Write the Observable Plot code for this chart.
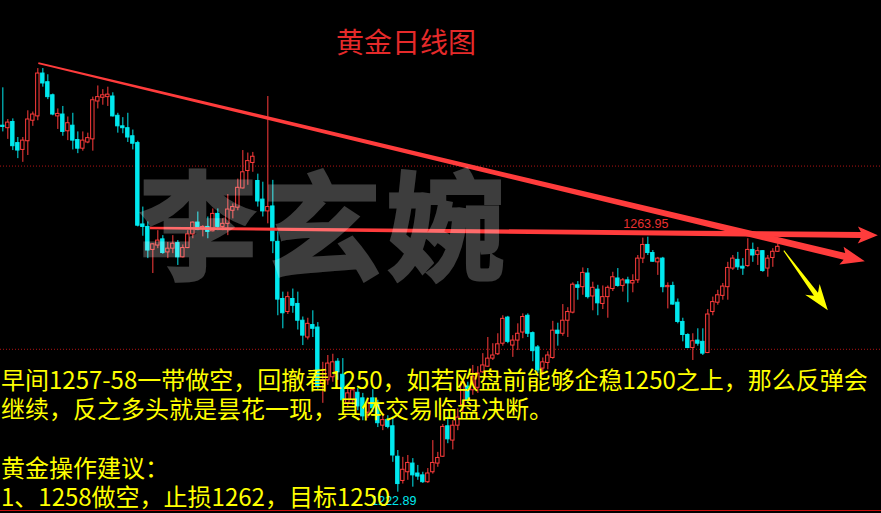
<!DOCTYPE html>
<html>
<head>
<meta charset="utf-8">
<script src="https://cdn.jsdelivr.net/npm/d3@7"></script>
<script src="https://cdn.jsdelivr.net/npm/@observablehq/plot@0.6"></script>
<style>
  html, body { margin: 0; padding: 0; background: #000; }
  #wrap { position: relative; width: 881px; height: 513px; overflow: hidden; background: #000; }
  #chart { position: absolute; left: 0; top: 0; }
  .rule-top { position: absolute; left: 0; top: 7px; width: 881px; height: 2px; background: #c80f0f; }
  .rule-bottom { position: absolute; left: 0; top: 510px; width: 881px; height: 1px; background: #c80f0f; }
  .title { position: absolute; left: 336px; top: 26px; font: 28px/30px "Noto Sans CJK SC", sans-serif; color: #e52a2a; white-space: nowrap; }
  .watermark { position: absolute; left: 139px; top: 158px; font: 700 118px/124px "Noto Sans CJK SC", sans-serif;
               letter-spacing: 6px; color: #fff; -webkit-text-stroke: 3px #fff; opacity: 0.24; white-space: nowrap; pointer-events: none; }
  .note { position: absolute; left: 1px; font: 24px/24px "Noto Sans CJK SC", sans-serif; color: #ffff00; white-space: nowrap; }
</style>
</head>
<body>
<div id="wrap">
  <div class="rule-top"></div>
  <div id="chart"></div>
  <div class="title" id="title"></div>
  <div class="watermark" id="watermark"></div>
  <div id="notes"></div>
  <div class="rule-bottom"></div>
</div>
<script>
// Gold daily candles (USD/oz), oldest first
const open = [
  1281.9, 1281.5, 1282.5, 1279.1, 1278.0, 1279.4, 1282.7, 1283.4, 1290.3, 1288.9,
  1286.8, 1283.4, 1283.7, 1281.0, 1281.9, 1279.6, 1278.2, 1279.2, 1279.7, 1285.8,
  1286.4, 1286.5, 1286.6, 1283.5, 1281.8, 1281.5, 1280.2, 1279.1, 1266.0, 1265.6,
  1261.9, 1262.6, 1263.6, 1261.5, 1262.1, 1263.0, 1260.7, 1262.2, 1264.4, 1266.3,
  1265.3, 1265.6, 1264.9, 1267.7, 1265.6, 1266.1, 1268.2, 1268.7, 1271.8, 1274.6,
  1275.9, 1273.0, 1270.0, 1268.1, 1268.9, 1263.2, 1254.0, 1251.9, 1254.0, 1253.2,
  1250.5, 1247.8, 1249.8, 1249.4, 1240.4, 1240.9, 1241.4, 1243.9, 1241.8, 1237.2,
  1237.7, 1238.9, 1238.0, 1235.7, 1238.0, 1236.9, 1233.6, 1234.5, 1233.5, 1228.6,
  1224.7, 1226.1, 1227.5, 1225.9, 1225.6, 1224.5, 1226.1, 1227.5, 1228.6, 1233.5,
  1231.2, 1233.6, 1236.9, 1239.9, 1239.3, 1239.7, 1242.2, 1243.1, 1244.4, 1245.1,
  1246.8, 1251.0, 1246.5, 1247.3, 1248.6, 1251.3, 1248.5, 1246.2, 1242.8, 1243.7,
  1244.5, 1248.9, 1248.4, 1250.5, 1251.8, 1256.2, 1255.9, 1258.1, 1254.4, 1255.5,
  1253.2, 1254.3, 1255.6, 1257.3, 1256.1, 1257.0, 1256.5, 1257.0, 1260.5, 1262.7,
  1261.4, 1259.9, 1260.5, 1255.9, 1256.1, 1253.4, 1250.3, 1248.2, 1246.1, 1247.3,
  1247.1, 1245.3, 1251.9, 1253.4, 1254.5, 1255.9, 1258.9, 1260.3, 1259.2, 1259.3,
  1261.9, 1261.1, 1261.7, 1258.9, 1260.6, 1261.6
];
const high = [
  1288.0, 1282.9, 1283.0, 1280.0, 1280.0, 1284.3, 1284.1, 1291.1, 1291.1, 1290.1,
  1287.0, 1284.6, 1285.0, 1283.3, 1283.9, 1280.9, 1280.9, 1280.7, 1286.5, 1288.3,
  1287.7, 1288.1, 1287.2, 1283.9, 1283.2, 1283.9, 1281.2, 1279.4, 1268.8, 1266.4,
  1262.9, 1265.0, 1264.2, 1263.1, 1264.2, 1263.4, 1262.7, 1265.0, 1266.4, 1268.0,
  1265.8, 1267.2, 1268.5, 1268.5, 1266.9, 1270.8, 1269.3, 1273.3, 1277.9, 1277.5,
  1277.6, 1274.1, 1272.8, 1286.6, 1273.1, 1264.8, 1255.1, 1255.1, 1255.6, 1255.1,
  1251.1, 1250.9, 1252.1, 1250.2, 1243.8, 1244.9, 1245.1, 1244.4, 1244.4, 1239.6,
  1239.7, 1239.6, 1238.8, 1238.0, 1239.4, 1237.7, 1235.2, 1235.2, 1235.0, 1229.6,
  1228.5, 1228.8, 1228.3, 1227.2, 1226.1, 1226.7, 1231.2, 1229.3, 1233.8, 1235.0,
  1234.4, 1236.3, 1240.9, 1240.6, 1243.3, 1243.1, 1245.2, 1247.8, 1246.8, 1248.4,
  1251.3, 1251.2, 1248.1, 1250.0, 1251.6, 1251.6, 1248.7, 1246.5, 1244.5, 1245.5,
  1250.4, 1250.1, 1253.1, 1252.6, 1256.6, 1256.8, 1259.0, 1258.9, 1256.7, 1256.2,
  1256.1, 1256.1, 1258.3, 1258.9, 1257.3, 1257.5, 1257.9, 1261.0, 1263.8, 1263.95,
  1261.8, 1260.7, 1260.7, 1256.6, 1256.7, 1254.0, 1250.9, 1248.4, 1248.4, 1249.2,
  1249.2, 1252.3, 1254.3, 1255.4, 1256.5, 1259.9, 1261.0, 1261.5, 1260.5, 1263.7,
  1263.0, 1262.3, 1261.8, 1261.0, 1262.1, 1262.9
];
const low = [
  1280.9, 1279.7, 1277.9, 1276.6, 1276.0, 1277.1, 1281.8, 1282.7, 1288.1, 1286.1,
  1283.5, 1281.3, 1280.2, 1279.5, 1278.0, 1277.4, 1277.8, 1279.0, 1277.8, 1284.6,
  1285.2, 1285.0, 1283.3, 1280.7, 1280.6, 1279.2, 1278.0, 1265.6, 1264.1, 1260.5,
  1258.1, 1262.1, 1261.2, 1260.5, 1261.3, 1259.4, 1260.6, 1262.1, 1263.7, 1265.0,
  1264.0, 1263.7, 1264.8, 1265.0, 1265.0, 1264.2, 1266.9, 1268.2, 1271.7, 1272.3,
  1274.4, 1268.8, 1267.2, 1266.1, 1261.3, 1251.3, 1249.2, 1251.5, 1251.7, 1249.0,
  1246.5, 1247.4, 1247.8, 1239.3, 1237.2, 1240.1, 1240.6, 1240.9, 1236.9, 1236.4,
  1236.9, 1236.0, 1234.4, 1234.8, 1235.7, 1233.3, 1232.8, 1233.1, 1227.7, 1222.89,
  1224.2, 1224.8, 1223.7, 1224.8, 1224.3, 1224.3, 1225.8, 1226.9, 1228.5, 1230.7,
  1229.7, 1232.8, 1235.6, 1237.2, 1238.5, 1238.8, 1242.0, 1243.0, 1244.1, 1244.9,
  1246.4, 1246.8, 1244.6, 1245.7, 1247.6, 1247.8, 1243.9, 1242.0, 1241.7, 1242.6,
  1244.3, 1246.4, 1248.0, 1247.8, 1251.6, 1253.8, 1254.6, 1254.0, 1252.1, 1251.3,
  1252.3, 1250.9, 1255.2, 1255.9, 1255.1, 1253.4, 1255.0, 1256.5, 1259.7, 1261.0,
  1259.9, 1257.8, 1255.0, 1252.4, 1253.0, 1250.0, 1247.1, 1246.0, 1244.1, 1246.4,
  1244.9, 1245.2, 1251.3, 1253.0, 1253.8, 1253.8, 1258.6, 1258.6, 1257.8, 1259.1,
  1259.9, 1259.4, 1258.3, 1257.5, 1259.1, 1261.5
];
const close = [
  1281.7, 1282.4, 1278.6, 1277.9, 1279.5, 1282.9, 1283.7, 1290.3, 1288.7, 1286.5,
  1283.7, 1283.8, 1280.9, 1282.3, 1279.5, 1278.2, 1279.5, 1279.9, 1286.0, 1286.5,
  1286.8, 1286.9, 1283.4, 1281.8, 1281.5, 1280.0, 1279.0, 1265.8, 1265.6, 1261.8,
  1262.8, 1263.4, 1261.4, 1262.1, 1262.9, 1260.7, 1262.2, 1264.4, 1266.3, 1265.1,
  1265.6, 1264.8, 1267.7, 1265.6, 1266.1, 1268.4, 1268.8, 1271.9, 1274.4, 1276.2,
  1276.9, 1269.7, 1268.1, 1268.8, 1263.3, 1253.9, 1251.7, 1254.3, 1252.9, 1250.5,
  1248.1, 1250.0, 1249.2, 1239.9, 1240.9, 1243.6, 1243.8, 1242.2, 1237.7, 1238.8,
  1239.3, 1236.7, 1235.1, 1237.2, 1236.4, 1234.0, 1234.5, 1233.4, 1228.8, 1224.2,
  1226.5, 1227.6, 1225.6, 1225.4, 1224.5, 1225.9, 1227.6, 1228.4, 1233.4, 1231.4,
  1233.6, 1234.9, 1240.6, 1237.7, 1241.4, 1242.0, 1243.3, 1244.4, 1244.9, 1246.7,
  1250.8, 1247.1, 1247.3, 1248.4, 1251.1, 1248.4, 1245.6, 1242.5, 1243.8, 1244.9,
  1248.9, 1248.4, 1250.5, 1251.9, 1256.3, 1255.8, 1258.2, 1254.3, 1255.8, 1253.3,
  1254.3, 1255.8, 1257.5, 1256.1, 1257.0, 1256.5, 1256.9, 1260.5, 1262.7, 1261.4,
  1260.0, 1260.5, 1255.9, 1256.1, 1253.1, 1250.3, 1248.2, 1246.1, 1247.2, 1246.8,
  1245.2, 1251.5, 1253.5, 1254.6, 1256.0, 1259.0, 1260.5, 1259.1, 1258.9, 1261.9,
  1261.0, 1261.7, 1258.5, 1260.5, 1261.6, 1262.4
];

// Dotted price levels of the chart window
const gridLevels = [1275.4, 1245.9];

// Hand-drawn guide arrows: from (bar, price) to (bar, price)
const guideNames = ["trend", "level", "target"];
const guideFromBar = [7.2, 29.5, 156.3];
const guideFromPrice = [1291.9, 1265.35, 1261.7];
const guideToBar = [172.5, 175.1, 165.1];
const guideToPrice = [1260.0, 1264.2, 1252.1];

// Texts
const chartTitle = "黄金日线图";
const watermarkText = "李玄婉";
const noteLines = [
  "早间1257-58一带做空，回撤看1250，如若欧盘前能够企稳1250之上，那么反弹会",
  "继续，反之多头就是昙花一现，具体交易临盘决断。",
  "",
  "黄金操作建议：",
  "1、1258做空，止损1262，目标1250"
];

const RED = "#ff3c3c";
const CYAN = "#00e8ee";

const candles = open.map((o, i) => ({i, o, h: high[i], l: low[i], c: close[i]}));
const rising = candles.filter(d => d.c >= d.o);
const falling = candles.filter(d => d.c < d.o);
// Swing low of the window, and the highest high of the rebound after it
const trough = candles.reduce((a, b) => (b.l < a.l ? b : a));
const peak = candles.slice(trough.i).reduce((a, b) => (b.h > a.h ? b : a));

const guides = guideNames.map((name, k) => ({
  name, x0: guideFromBar[k], y0: guideFromPrice[k], x1: guideToBar[k], y1: guideToPrice[k]
}));
const guideStyle = {
  trend:  {fill: RED, w0: 2, w1: 7, head: 21, half: 9, sweep: 3},
  level:  {fill: RED, w0: 2.5, w1: 6, head: 17, half: 8.5, sweep: 3},
  target: {fill: "#ffff00", w0: 1, w1: 5, head: 20, half: 9, sweep: 6}
};

// Tapered arrow outline in screen space
function arrowPath(x0, y0, x1, y1, s) {
  const dx = x1 - x0, dy = y1 - y0, L = Math.hypot(dx, dy);
  const ux = dx / L, uy = dy / L, nx = -uy, ny = ux;
  const bx = x1 - ux * s.head, by = y1 - uy * s.head;
  const sx = bx - ux * s.sweep, sy = by - uy * s.sweep;
  const pts = [
    [x0 + nx * s.w0 / 2, y0 + ny * s.w0 / 2],
    [bx + nx * s.w1 / 2, by + ny * s.w1 / 2],
    [sx + nx * s.half, sy + ny * s.half],
    [x1, y1],
    [sx - nx * s.half, sy - ny * s.half],
    [bx - nx * s.w1 / 2, by - ny * s.w1 / 2],
    [x0 - nx * s.w0 / 2, y0 - ny * s.w0 / 2]
  ];
  return "M" + pts.map(p => p[0].toFixed(2) + "," + p[1].toFixed(2)).join("L") + "Z";
}

function guideArrows(index, scales) {
  const g = d3.create("svg:g");
  for (const d of guides) {
    g.append("path")
      .attr("d", arrowPath(scales.x(d.x0), scales.y(d.y0), scales.x(d.x1), scales.y(d.y1), guideStyle[d.name]))
      .attr("fill", guideStyle[d.name].fill);
  }
  return g.node();
}

const half = 0.34;
const chart = Plot.plot({
  width: 881,
  height: 513,
  margin: 0,
  x: {domain: [-0.466, 175.734], axis: null},
  y: {domain: [1219.46, 1302.06], axis: null},
  style: {background: "#000", color: "#fff", fontFamily: "Liberation Sans, sans-serif"},
  marks: [
    Plot.ruleY(gridLevels, {stroke: "#b01414", strokeDasharray: "1,2", strokeWidth: 1}),
    Plot.ruleX(rising, {x: "i", y1: "l", y2: "h", stroke: RED, strokeWidth: 1}),
    Plot.ruleX(falling, {x: "i", y1: "l", y2: "h", stroke: CYAN, strokeWidth: 1}),
    Plot.rect(rising, {x1: d => d.i - half, x2: d => d.i + half, y1: "o", y2: "c", fill: "#000", stroke: RED, strokeWidth: 1}),
    Plot.rect(falling, {x1: d => d.i - half, x2: d => d.i + half, y1: "o", y2: "c", fill: CYAN, stroke: CYAN, strokeWidth: 1}),
    Plot.text([peak], {x: "i", y: "h", text: d => d.h.toFixed(2), dx: -2, dy: -13, fill: "#e83030", fontSize: 12.5}),
    Plot.text([trough], {x: "i", y: "l", text: d => d.l.toFixed(2), dx: -4, dy: 9, fill: CYAN, fontSize: 12.5}),
    guideArrows
  ]
});
document.getElementById("chart").appendChild(chart);

document.getElementById("title").textContent = chartTitle;
document.getElementById("watermark").textContent = watermarkText;

const noteTops = [367, 396, 425, 455, 484];
const notes = document.getElementById("notes");
noteLines.forEach((t, k) => {
  if (!t) return;
  const div = document.createElement("div");
  div.className = "note";
  div.style.top = noteTops[k] + "px";
  div.textContent = t;
  notes.appendChild(div);
});
</script>
</body>
</html>
